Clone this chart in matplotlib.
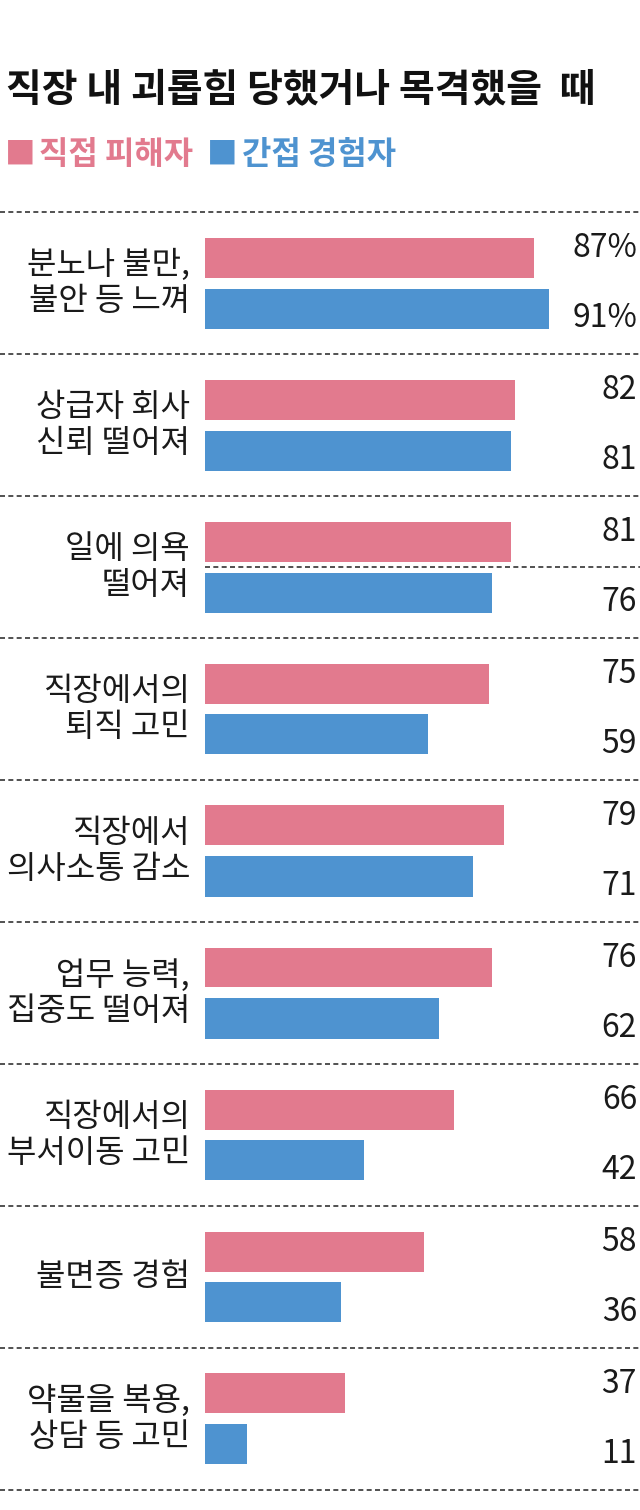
import matplotlib
matplotlib.use("Agg")
import matplotlib.pyplot as plt
import numpy as np

plt.rcParams['font.family'] = ['Noto Sans CJK KR', 'DejaVu Sans']

# data
categories = ['분노나 불만,\n불안 등 느껴', '상급자 회사\n신뢰 떨어져', '일에 의욕\n떨어져',
              '직장에서의\n퇴직 고민', '직장에서\n의사소통 감소', '업무 능력,\n집중도 떨어져',
              '직장에서의\n부서이동 고민', '불면증 경험', '약물을 복용,\n상담 등 고민']
direct = [87, 82, 81, 75, 79, 76, 66, 58, 37]
indirect = [91, 81, 76, 59, 71, 62, 42, 36, 11]
direct_lbl = ['87%', '82', '81', '75', '79', '76', '66', '58', '37']
indirect_lbl = ['91%', '81', '76', '59', '71', '62', '42', '36', '11']

pink = '#E27A8E'
blue = '#4E93D0'

W, H = 640, 1510
fig = plt.figure(figsize=(W / 100, H / 100), dpi=100)
ax = fig.add_axes([0, 0, 1, 1])

px_per_unit = 3.78
x0 = 205
ax.set_xlim(-x0 / px_per_unit, (W - x0) / px_per_unit)
gap = 142.0
c0 = 283.0
ax.set_ylim((H - c0) / gap, -c0 / gap)
ax.axis('off')

y = np.arange(len(categories))
bh = 40 / gap
ax.barh(y - 25.5 / gap, direct, height=bh, color=pink)
ax.barh(y + 25.5 / gap, indirect, height=bh, color=blue)

xr = (637 - x0) / px_per_unit
xl = (190 - x0) / px_per_unit
for i in range(len(categories)):
    ax.text(xl, i, categories[i], ha='right', va='center', fontsize=23,
            linespacing=1.15, color='#1a1a1a')
    ax.text(xr, i - 35 / gap, direct_lbl[i], ha='right', va='center',
            fontsize=23, color='#1a1a1a')
    ax.text(xr, i + 35 / gap, indirect_lbl[i], ha='right', va='center',
            fontsize=23, color='#1a1a1a')

# dashed separators
for k in range(len(categories) + 1):
    ax.axhline(k - 0.5, color='#333333', lw=1.2, ls=(0, (3, 2)))
# stray dashed line in the third group
ax.plot([0, ax.get_xlim()[1]], [2, 2], color='#333333', lw=1.2, ls=(0, (3, 2)))

fig.text(6 / W, 1 - 90 / H, '직장 내 괴롭힘 당했거나 목격했을  때', fontsize=28,
         fontweight='bold', ha='left', va='center', color='#111111')
fig.text(5 / W, 1 - 155 / H, '■', fontsize=22, color=pink, ha='left', va='center')
fig.text(39 / W, 1 - 155 / H, '직접 피해자', fontsize=23, fontweight='bold',
         color=pink, ha='left', va='center')
fig.text(207 / W, 1 - 155 / H, '■', fontsize=22, color=blue, ha='left', va='center')
fig.text(242 / W, 1 - 155 / H, '간접 경험자', fontsize=23, fontweight='bold',
         color=blue, ha='left', va='center')

fig.savefig('out.png', dpi=100)
